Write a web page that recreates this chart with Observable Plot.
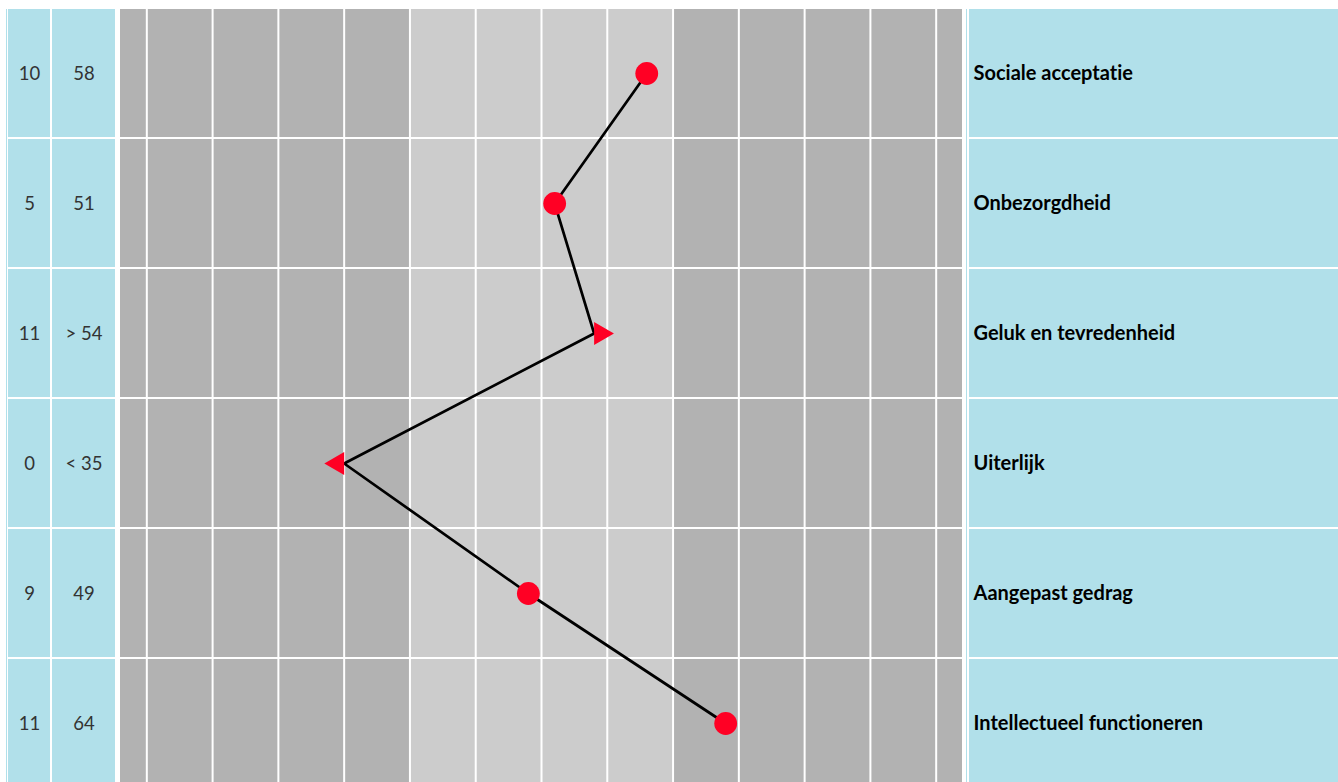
<!DOCTYPE html>
<html><head><meta charset="utf-8">
<script src="https://cdn.jsdelivr.net/npm/d3@7"></script>
<script src="https://cdn.jsdelivr.net/npm/@observablehq/plot@0.6"></script>
<style>
body{margin:0;background:#fff;overflow:hidden}
#chart{position:relative;width:1338px;height:782px;overflow:hidden}
#chart > div{position:absolute;top:0}
#chart svg{display:block;background:transparent}
#chart svg text{font-variant-ligatures:none;font-feature-settings:"liga" 0,"clig" 0}
.edge{position:absolute;top:9px;width:1px;height:778px;background:#b0e0ea}
</style></head><body><div id="chart"></div>
<script>
// ---- data ----
const scales = ["Sociale acceptatie", "Onbezorgdheid", "Geluk en tevredenheid", "Uiterlijk", "Aangepast gedrag", "Intellectueel functioneren"];
const rawScores = [10, 5, 11, 0, 9, 11];
const tLabels = ["58", "51", "> 54", "< 35", "49", "64"];
const tValues = [58, 51, 54, 35, 49, 64];
const zoneNames = ["laag", "gemiddeld", "hoog"];
const zoneFrom = [18, 40, 60];
const zoneTo = [40, 60, 82];
const gridTicks = [20, 25, 30, 35, 40, 45, 50, 55, 60, 65, 70, 75, 80];

// ---- derived tables ----
const rows = scales.map((s, i) => ({
  scale: s, raw: rawScores[i], tLabel: tLabels[i], t: tValues[i],
  marker: tLabels[i].startsWith(">") ? "right" : tLabels[i].startsWith("<") ? "left" : "circle"
}));
const zoneCells = [];
zoneNames.forEach((z, j) => scales.forEach(s => zoneCells.push({zone: z, from: zoneFrom[j], to: zoneTo[j], scale: s})));

// ---- style ----
const BLUE = "#b1e0ea", DARK = "#b2b2b2", LIGHT = "#cccccc", RED = "#ff0024";
const H = 787;
const yScale = {type: "band", domain: scales, range: [9, H], paddingInner: 2 / 130, paddingOuter: 0, axis: null};
const font = "Lato, 'Open Sans', sans-serif";

function numberColumn(width, textFn) {
  return Plot.plot({
    width, height: H, margin: 0, style: {background: "transparent"},
    y: yScale,
    marks: [
      Plot.cell(rows, {y: "scale", fill: BLUE, inset: 0}),
      Plot.text(rows, {y: "scale", text: textFn, frameAnchor: "middle", dy: 1, fontSize: 18.5, fill: "#333", fontFamily: font})
    ]
  });
}

const colRaw = numberColumn(42, d => String(d.raw));
const colT = numberColumn(63, d => d.tLabel);

const profile = Plot.plot({
  width: 842, height: H, margin: 0, style: {background: "transparent"},
  x: {domain: [18, 82], axis: null},
  y: yScale,
  color: {domain: zoneNames, range: [DARK, LIGHT, DARK]},
  marks: [
    Plot.barX(zoneCells, {x1: "from", x2: "to", y: "scale", fill: "zone", inset: 0}),
    Plot.ruleX(gridTicks, {stroke: "white", strokeWidth: 2}),
    Plot.line(rows, {x: "t", y: "scale", stroke: "black", strokeWidth: 2.7}),
    Plot.dot(rows.filter(d => d.marker === "circle"), {x: "t", y: "scale", r: 11.4, fill: RED}),
    Plot.dot(rows.filter(d => d.marker === "right"), {x: "t", y: "scale", symbol: "triangle", r: 8.5, rotate: 90, dx: 6.6, fill: RED}),
    Plot.dot(rows.filter(d => d.marker === "left"), {x: "t", y: "scale", symbol: "triangle", r: 8.5, rotate: -90, dx: -6.6, fill: RED})
  ]
});

const labels = Plot.plot({
  width: 369, height: H, margin: 0, style: {background: "transparent"},
  y: yScale,
  marks: [
    Plot.cell(rows, {y: "scale", fill: BLUE, inset: 0}),
    Plot.text(rows, {y: "scale", text: "scale", frameAnchor: "left", textAnchor: "start", dx: 4, fontSize: 20, fontWeight: "bold", fill: "#000", fontFamily: font})
  ]
});

const chart = document.getElementById("chart");
function place(node, left) {
  const d = document.createElement("div");
  d.style.left = left + "px";
  d.appendChild(node);
  chart.appendChild(d);
}
place(colRaw, 8);
place(colT, 52);
place(profile, 120);
place(labels, 969);
[6, 966].forEach(x => { const e = document.createElement("span"); e.className = "edge"; e.style.left = x + "px"; chart.appendChild(e); });
</script>
</body></html>
